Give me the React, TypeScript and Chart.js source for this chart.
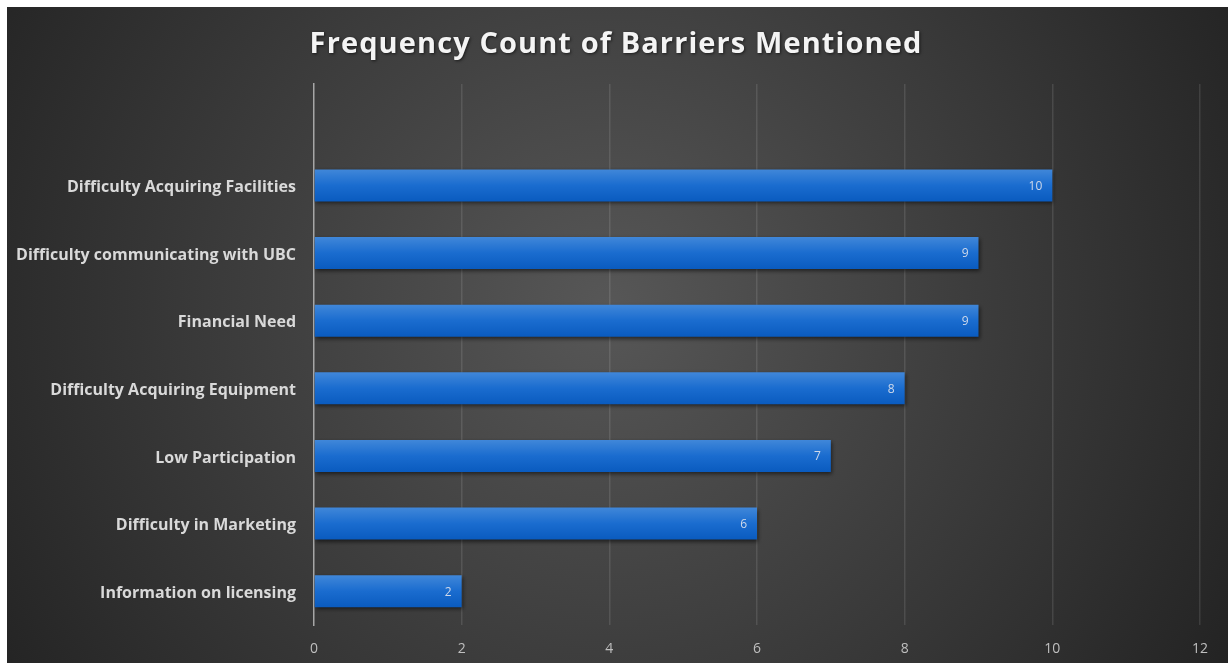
import React, { useEffect, useRef } from "react";
import { Chart, registerables } from "chart.js";

Chart.register(...registerables);

const titleText = "Frequency Count of Barriers Mentioned";
const categories = [
  "",
  "Difficulty Acquiring Facilities",
  "Difficulty communicating with UBC",
  "Financial Need",
  "Difficulty Acquiring Equipment",
  "Low Participation",
  "Difficulty in Marketing",
  "Information on licensing",
];
const counts: (number | null)[] = [null, 10, 9, 9, 8, 7, 6, 2];
const xMin = 0;
const xMax = 12;
const xStep = 2;

const W = 1221;
const H = 656;

const bgPlugin = {
  id: "bgPlugin",
  beforeDraw(chart: any) {
    const { ctx } = chart;
    ctx.save();
    const g = ctx.createRadialGradient(600, 300, 0, 600, 300, 760);
    g.addColorStop(0, "#575757");
    g.addColorStop(1, "#202020");
    ctx.fillStyle = g;
    ctx.fillRect(0, 0, chart.width, chart.height);
    ctx.restore();
  },
  afterDraw(chart: any) {
    const { ctx } = chart;
    ctx.save();
    ctx.font = "bold 29px 'Open Sans'";
    (ctx as any).letterSpacing = "1.1px";
    ctx.textAlign = "center";
    ctx.textBaseline = "middle";
    ctx.shadowColor = "rgba(0,0,0,0.6)";
    ctx.shadowBlur = 3;
    ctx.shadowOffsetX = 1;
    ctx.shadowOffsetY = 1;
    ctx.fillStyle = "#f4f4f4";
    ctx.fillText(titleText, 609, 38);
    ctx.restore();
  },
};

const shadowPlugin = {
  id: "shadowPlugin",
  beforeDatasetsDraw(chart: any) {
    const { ctx } = chart;
    ctx.save();
    ctx.shadowColor = "rgba(0,0,0,0.55)";
    ctx.shadowBlur = 4;
    ctx.shadowOffsetX = 1;
    ctx.shadowOffsetY = 2;
  },
  afterDatasetsDraw(chart: any) {
    const { ctx } = chart;
    ctx.restore();
    const meta = chart.getDatasetMeta(0);
    ctx.save();
    ctx.font = "12px 'Open Sans'";
    ctx.fillStyle = "#cfd9ea";
    ctx.textAlign = "right";
    ctx.textBaseline = "middle";
    meta.data.forEach((el: any, i: number) => {
      const v = counts[i];
      if (v === null || v === undefined) return;
      ctx.fillText(String(v), el.x - 10, el.y + 1);
    });
    ctx.restore();
  },
};

export default function App() {
  const ref = useRef<HTMLCanvasElement | null>(null);
  useEffect(() => {
    document.body.style.margin = "7px 0 0 7px";
    document.body.style.overflow = "hidden";
    const canvas = ref.current;
    if (!canvas) return;
    const chart = new Chart(canvas, {
      type: "bar",
      data: {
        labels: categories,
        datasets: [
          {
            data: counts as any,
            backgroundColor: (c: any) => {
              const ch = c.chart;
              const area = ch.chartArea;
              if (!area) return "#1668cc";
              const y = ch.scales.y.getPixelForValue(c.dataIndex);
              const half = 16;
              const g = ch.ctx.createLinearGradient(0, y - half, 0, y + half);
              g.addColorStop(0, "#4087d9");
              g.addColorStop(0.5, "#1a6ccf");
              g.addColorStop(1, "#0a5bbf");
              return g;
            },
            borderWidth: 0,
            categoryPercentage: 1,
            barPercentage: 0.475,
          },
        ],
      },
      options: {
        indexAxis: "y",
        animation: false,
        responsive: false,
        maintainAspectRatio: false,
        layout: { padding: { top: 77, right: 28, bottom: 0, left: 0 } },
        plugins: {
          legend: { display: false },
          title: { display: false },
          tooltip: { enabled: false },
        },
        scales: {
          x: {
            min: xMin,
            max: xMax,
            ticks: {
              stepSize: xStep,
              color: "#bfbfbf",
              font: { family: "'Open Sans'", size: 14 },
              padding: 16,
            },
            grid: {
              color: (c: any) => (c.tick && c.tick.value === 0 ? "rgba(0,0,0,0)" : "rgba(255,255,255,0.11)"),
              lineWidth: 1.5,
              drawTicks: false,
            },
            border: { display: false },
            afterFit(scale: any) {
              scale.height = 38;
            },
          },
          y: {
            ticks: {
              color: "#d9d9d9",
              font: { family: "'Open Sans'", size: 16, weight: "bold" },
              padding: 18,
              labelOffset: 2,
            },
            grid: { display: false, drawTicks: false },
            border: { display: true, color: "#a6a6a6", width: 1.5 },
            afterFit(scale: any) {
              scale.width = 307;
            },
          },
        },
      },
      plugins: [bgPlugin, shadowPlugin],
    });
    return () => chart.destroy();
  }, []);
  return (
    <div style={{ width: W, height: H }}>
      <canvas ref={ref} width={W} height={H} style={{ display: "block", width: W, height: H }} />
    </div>
  );
}
